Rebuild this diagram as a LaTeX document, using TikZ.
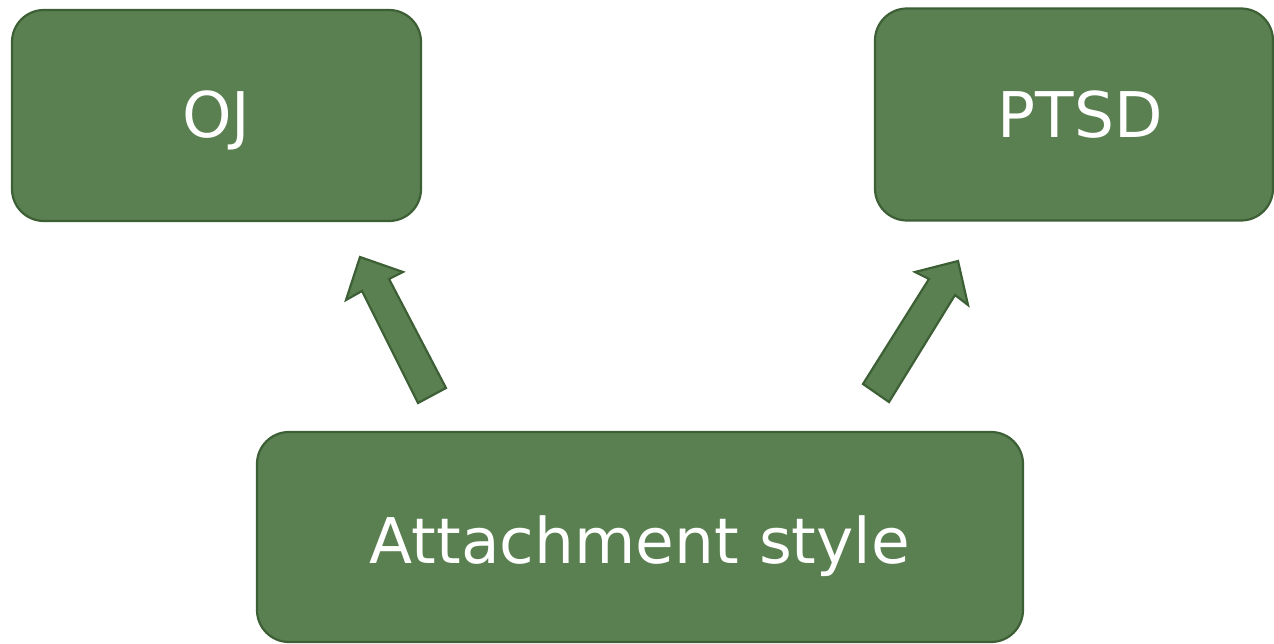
\documentclass[tikz,border=0pt]{standalone}
\usepackage{fontspec}
\setmainfont{DejaVu Sans}
\definecolor{boxfill}{HTML}{5A7F50}
\definecolor{boxline}{HTML}{3D5F35}
\begin{document}
\begin{tikzpicture}[x=1pt,y=-1pt,
  box/.style={draw=boxline, fill=boxfill, line width=2.2pt, rounded corners=32pt,
    text=white, font=\fontsize{63}{74}\selectfont, inner sep=0pt, text depth=0pt},
  blockarrow/.style={draw=boxline, fill=boxfill, line width=2.2pt, line join=miter}]
\useasboundingbox (0,0) rectangle (1274,644);
\node[box, minimum width=409pt, minimum height=211pt, text height=45pt] (oj) at (216.5,115.5) {OJ};
\node[box, minimum width=398pt, minimum height=212pt, text height=47pt] (ptsd) at (1074,114.5) {\hspace*{12pt}PTSD};
\node[box, minimum width=766pt, minimum height=210pt, text height=52pt] (att) at (640,537) {Attachment style};
\draw[blockarrow] (360,257) -- (403,272) -- (389,279) -- (446,388) -- (418,403) -- (362,291) -- (346,300) -- cycle;
\draw[blockarrow] (958,261) -- (968,305) -- (955,295) -- (889,402) -- (863,384) -- (929,279) -- (915,272) -- cycle;
\end{tikzpicture}
\end{document}
